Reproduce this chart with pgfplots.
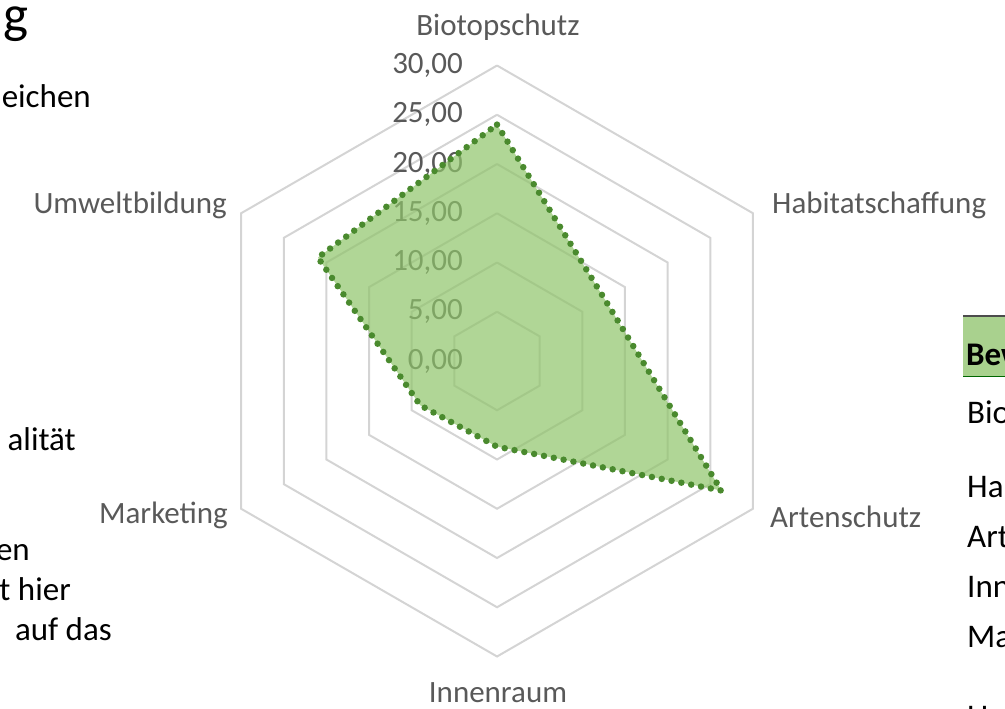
\documentclass[border=0pt]{standalone}
\usepackage{pgfplots}
\pgfplotsset{compat=1.18}
\usepackage{fontspec}
\setmainfont{Carlito}
\definecolor{ringgray}{HTML}{D4D4D4}
\definecolor{labgray}{HTML}{595959}
\definecolor{fillgreen}{HTML}{8FC46A}
\definecolor{dotgreen}{HTML}{4A8A2E}
\definecolor{headgreen}{HTML}{A9D18E}
\begin{document}
\begin{tikzpicture}[x=1pt,y=1pt]
\begin{axis}[
  at={(0,0)}, anchor=north west,
  hide axis, clip=false,
  x=9.85pt, y=9.85pt,
  xmin=-50.46, xmax=51.57, ymin=-35.33, ymax=36.65,
]
% hexagonal grid rings
\addplot[ringgray, line width=2pt, data cs=polar] coordinates {(90,5) (30,5) (-30,5) (-90,5) (-150,5) (150,5) (90,5)};
\addplot[ringgray, line width=2pt, data cs=polar] coordinates {(90,10) (30,10) (-30,10) (-90,10) (-150,10) (150,10) (90,10)};
\addplot[ringgray, line width=2pt, data cs=polar] coordinates {(90,15) (30,15) (-30,15) (-90,15) (-150,15) (150,15) (90,15)};
\addplot[ringgray, line width=2pt, data cs=polar] coordinates {(90,20) (30,20) (-30,20) (-90,20) (-150,20) (150,20) (90,20)};
\addplot[ringgray, line width=2pt, data cs=polar] coordinates {(90,25) (30,25) (-30,25) (-90,25) (-150,25) (150,25) (90,25)};
\addplot[ringgray, line width=2pt, data cs=polar] coordinates {(90,30) (30,30) (-30,30) (-90,30) (-150,30) (150,30) (90,30)};
% radial tick labels
\begin{scope}[font=\fontsize{31}{37}\selectfont, text=labgray]
\node[anchor=east, inner sep=0pt] at (axis cs:-3.45,0) {0,00};
\node[anchor=east, inner sep=0pt] at (axis cs:-3.45,5) {5,00};
\node[anchor=east, inner sep=0pt] at (axis cs:-3.45,10) {10,00};
\node[anchor=east, inner sep=0pt] at (axis cs:-3.45,15) {15,00};
\node[anchor=east, inner sep=0pt] at (axis cs:-3.45,20) {20,00};
\node[anchor=east, inner sep=0pt] at (axis cs:-3.45,25) {25,00};
\node[anchor=east, inner sep=0pt] at (axis cs:-3.45,30) {30,00};
\end{scope}
% data series
\addplot[draw=dotgreen, line width=6.5pt, line cap=round, dash pattern=on 0pt off 10pt,
  fill=fillgreen, fill opacity=0.7, draw opacity=1, data cs=polar]
  coordinates {(90,24.0) (30,12.6) (-30,26.3) (-90,8.7) (-150,9.0) (150,21.0) (90,24.0)};
\end{axis}
% category labels (pixel coordinates: x right, y down)
\begin{scope}[font=\fontsize{31}{37}\selectfont, text=labgray]
\node[anchor=base, inner sep=0pt] at (498,-36) {Biotopschutz};
\node[anchor=base west, inner sep=0pt] at (772,-213) {Habitatschaffung};
\node[anchor=base west, inner sep=0pt] at (770,-527) {Artenschutz};
\node[anchor=base, inner sep=0pt] at (498,-702) {Innenraum};
\node[anchor=base east, inner sep=0pt] at (228,-523) {Marketing};
\node[anchor=base east, inner sep=0pt] at (227,-213) {Umweltbildung};
\end{scope}
% surrounding slide text (cropped)
\node[anchor=base east, inner sep=0pt, font=\fontsize{53}{60}\selectfont] at (29,-33) {g};
\begin{scope}[font=\fontsize{33}{40}\selectfont]
\node[anchor=base east, inner sep=0pt] at (91,-108) {eichen};
\node[anchor=base east, inner sep=0pt] at (76,-450) {alität};
\node[anchor=base east, inner sep=0pt] at (30,-560) {en};
\node[anchor=base east, inner sep=0pt] at (71,-600) {t hier};
\node[anchor=base east, inner sep=0pt] at (112,-640) {auf das};
\end{scope}
% table on the right
\fill[headgreen] (963,-316) rectangle (1010,-376);
\draw[black!70, line width=2pt] (963,-316) -- (1010,-316);
\draw[black!60!green, line width=1pt] (963,-376) -- (1010,-376);
\begin{scope}[font=\fontsize{33}{40}\selectfont]
\node[anchor=base west, inner sep=0pt, font=\fontsize{33}{40}\selectfont\bfseries] at (966,-365) {Bewertung};
\node[anchor=base west, inner sep=0pt] at (967,-423) {Biotopschutz};
\node[anchor=base west, inner sep=0pt] at (967,-497) {Habitatschaffung};
\node[anchor=base west, inner sep=0pt] at (967,-547) {Artenschutz};
\node[anchor=base west, inner sep=0pt] at (967,-597) {Innenraum};
\node[anchor=base west, inner sep=0pt] at (967,-647) {Marketing};
\node[anchor=base west, inner sep=0pt] at (967,-727) {Umweltbildung};
\end{scope}
\pgfresetboundingbox
\path[use as bounding box] (0,0) rectangle (1005,-709);
\end{tikzpicture}
\end{document}
